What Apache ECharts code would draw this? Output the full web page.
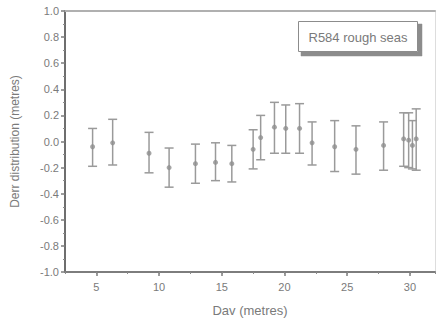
<!DOCTYPE html>
<html>
<head>
<meta charset="utf-8">
<script src="https://cdn.jsdelivr.net/npm/echarts@6/dist/echarts.min.js"></script>
<style>
  html, body { margin: 0; padding: 0; background: #fff; }
  #chart { width: 437px; height: 329px; }
</style>
</head>
<body>
<div id="chart"></div>
<script>
// Average depth (m) and depth-error statistics (m) per bin
const davValues = [4.7, 6.3, 9.2, 10.8, 12.9, 14.5, 15.8, 17.5, 18.1, 19.2, 20.1, 21.2, 22.2, 24.0, 25.7, 27.9, 29.5, 29.9, 30.2, 30.5];
const derrMean  = [-0.04, -0.01, -0.09, -0.20, -0.17, -0.16, -0.17, -0.06, 0.03, 0.11, 0.10, 0.10, -0.01, -0.04, -0.06, -0.03, 0.02, 0.01, -0.03, 0.02];
const derrHigh  = [0.10, 0.17, 0.07, -0.05, -0.02, -0.01, -0.03, 0.09, 0.20, 0.30, 0.28, 0.29, 0.15, 0.16, 0.12, 0.15, 0.22, 0.22, 0.16, 0.25];
const derrLow   = [-0.19, -0.18, -0.24, -0.35, -0.32, -0.30, -0.31, -0.21, -0.14, -0.09, -0.09, -0.09, -0.18, -0.23, -0.25, -0.22, -0.19, -0.20, -0.21, -0.22];
const xTickValues = [5, 10, 15, 20, 25, 30];
const boxLabel = 'R584 rough seas';

const textColor = '#7a7a7a';
const shadowColor = '#8c8c8c';
const fontFamily = 'Liberation Sans, Arial, sans-serif';

const chart = echarts.init(document.getElementById('chart'), null, { renderer: 'svg' });

const pointData = davValues.map((x, i) => [x, derrMean[i]]);
const barData = davValues.map((x, i) => [x, derrLow[i], derrHigh[i]]);

chart.setOption({
  animation: false,
  backgroundColor: '#fff',
  graphic: [
    // label box with a hard drop shadow along its right and bottom sides
    { type: 'polygon', id: 'boxShadow', z: 100,
      shape: { points: [[418, 24], [422, 24], [422, 56], [301, 56], [301, 52], [418, 52]] },
      style: { fill: shadowColor, stroke: shadowColor, lineWidth: 0.5 } },
    { type: 'rect', id: 'boxFrame', z: 101, shape: { x: 298.5, y: 21.5, width: 119, height: 30 },
      style: { fill: '#ffffff', stroke: shadowColor, lineWidth: 1 } },
    { type: 'text', id: 'boxText', z: 102, x: 358, y: 37,
      style: { text: boxLabel, fill: textColor, font: '13px ' + fontFamily, align: 'center', verticalAlign: 'middle' } }
  ],
  grid: { left: 65, top: 11, width: 370, height: 261 },
  xAxis: [
    {
      type: 'value', min: 2.5, max: 32, position: 'bottom',
      name: 'Dav (metres)', nameLocation: 'middle', nameGap: 32,
      nameTextStyle: { color: textColor, fontSize: 13, fontFamily: fontFamily },
      axisLine: { show: true, onZero: false, lineStyle: { color: '#7d7d7d', width: 2 } },
      axisTick: { show: true, customValues: xTickValues, length: 4, lineStyle: { color: '#7d7d7d', width: 1.5 } },
      axisLabel: { customValues: xTickValues, color: textColor, fontSize: 11, fontFamily: fontFamily, margin: 9 },
      splitLine: { show: false }
    },
    {
      type: 'value', min: 2.5, max: 32, interval: 2.5, position: 'bottom',
      axisLine: { show: false, onZero: false },
      axisTick: { show: true, length: 2, lineStyle: { color: '#8a8a8a', width: 1 } },
      axisLabel: { show: false },
      splitLine: { show: false }
    },
    {
      type: 'value', min: 2.5, max: 32, position: 'top',
      axisLine: { show: true, onZero: false, lineStyle: { color: '#b0b0b0', width: 2 } },
      axisTick: { show: false }, axisLabel: { show: false }, splitLine: { show: false }
    }
  ],
  yAxis: [
    {
      type: 'value', min: -1, max: 1, interval: 0.2, position: 'left',
      name: 'Derr distribution (metres)', nameLocation: 'middle', nameGap: 44,
      nameTextStyle: { color: textColor, fontSize: 12, fontFamily: fontFamily },
      axisLine: { show: true, onZero: false, lineStyle: { color: '#6e6e6e', width: 2 } },
      axisTick: { show: true, length: 4, lineStyle: { color: '#7d7d7d', width: 1.5 } },
      minorTick: { show: true, splitNumber: 2, length: 2, lineStyle: { color: '#8a8a8a', width: 1 } },
      axisLabel: { color: textColor, fontSize: 11, fontFamily: fontFamily, margin: 6,
                   formatter: v => v.toFixed(1) },
      splitLine: { show: false }
    },
    {
      type: 'value', min: -1, max: 1, position: 'right',
      axisLine: { show: true, onZero: false, lineStyle: { color: '#dddddd', width: 1 } },
      axisTick: { show: false }, axisLabel: { show: false }, splitLine: { show: false }
    }
  ],
  series: [
    {
      type: 'custom',
      xAxisIndex: 0, yAxisIndex: 0,
      data: barData,
      renderItem: function (params, api) {
        const x = api.value(0);
        const top = api.coord([x, api.value(2)]);
        const bot = api.coord([x, api.value(1)]);
        const w = 4.5;
        const style = { stroke: '#9a9a9a', lineWidth: 1.5 };
        return {
          type: 'group',
          children: [
            { type: 'line', shape: { x1: top[0], y1: top[1], x2: bot[0], y2: bot[1] }, style: style },
            { type: 'line', shape: { x1: top[0] - w, y1: top[1], x2: top[0] + w, y2: top[1] }, style: style },
            { type: 'line', shape: { x1: bot[0] - w, y1: bot[1], x2: bot[0] + w, y2: bot[1] }, style: style }
          ]
        };
      },
      z: 2
    },
    {
      type: 'scatter',
      xAxisIndex: 0, yAxisIndex: 0,
      data: pointData,
      symbol: 'circle',
      symbolSize: 5,
      itemStyle: { color: '#8e8e8e' },
      z: 3
    }
  ]
});
</script>
</body>
</html>
